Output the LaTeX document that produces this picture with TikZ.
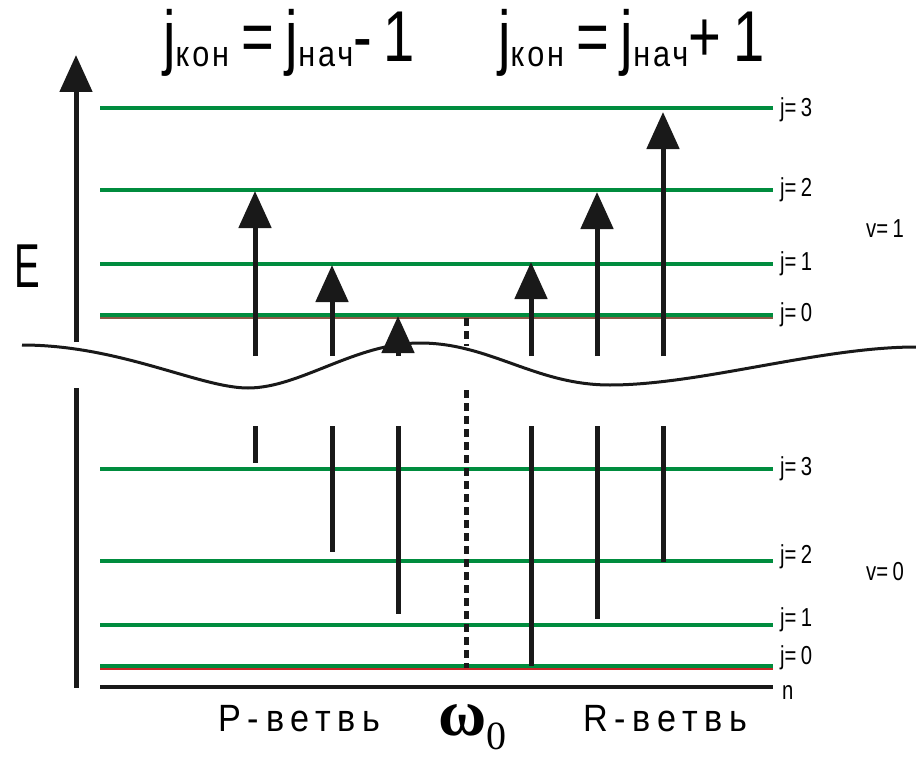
\documentclass[tikz,border=0pt]{standalone}
\usepackage{fontspec}
\setmainfont{Liberation Sans}
\newfontfamily\condf[FakeStretch=0.78]{Liberation Sans}
\newfontfamily\narrowf[FakeStretch=0.62]{Liberation Sans}
\newfontfamily\spacedf[FakeStretch=0.9,LetterSpace=18]{Liberation Sans}
\newfontfamily\subsp[FakeStretch=0.85,LetterSpace=8]{Liberation Sans}
\newfontfamily\seriff{Liberation Serif}
\usetikzlibrary{arrows.meta}
\definecolor{lvgreen}{RGB}{0,140,62}
\definecolor{lvbrown}{RGB}{140,90,70}
\definecolor{lvred}{RGB}{200,40,40}
\begin{document}
\begin{tikzpicture}[x=1pt,y=-1pt,
  lev/.style={draw=lvgreen,line width=4pt},
  trans/.style={draw=black!90,line width=5pt,-{Triangle[length=37pt,width=32pt]}},
  seg/.style={draw=black!90,line width=5pt},
  dashln/.style={draw=black!90,line width=5pt,dash pattern=on 8pt off 5pt},
  lab/.style={font=\condf\fontsize{26}{26}\selectfont,inner sep=0pt,anchor=west},
  big/.style={font=\condf\fontsize{72}{72}\selectfont,inner sep=0pt}]
\useasboundingbox (0,0) rectangle (916,760);
% level coordinates
\foreach \y/\n in {108/uA,190/uB,264/uC,315/uD,469/lA,561/lB,625/lC,666/lD,687/nn}{
  \coordinate (\n L) at (100,\y);
  \coordinate (\n R) at (773,\y);
}
% under-lines of j=0
\draw[draw=lvbrown,line width=2pt] ([yshift=-3pt]uDL) -- ([yshift=-3pt]uDR);
\draw[draw=lvred,line width=2.5pt] ([yshift=-3pt]lDL) -- ([yshift=-3pt]lDR);
\foreach \n in {uA,uB,uC,uD,lA,lB,lC,lD}{\draw[lev] (\n L) -- (\n R);}
\draw[draw=black!90,line width=4pt] (nnL) -- (nnR);
% level labels
\node[lab] (tuA) at (780,110) {j=\,3};
\node[lab] (tuB) at (780,190) {j=\,2};
\node[lab] (tuC) at (780,264) {j=\,1};
\node[lab] (tuD) at (780,315) {j=\,0};
\node[lab] (tlA) at (780,469) {j=\,3};
\node[lab] (tlB) at (780,557) {j=\,2};
\node[lab] (tlC) at (780,620) {j=\,1};
\node[lab] (tlD) at (780,658) {j=\,0};
\node[lab] (tn) at (782,692) {n};
\node[lab] (v1) at (866,229) {v=\,1};
\node[lab] (v0) at (866,572) {v=\,0};
% energy axis
\coordinate (eb) at (76,342);
\coordinate (et) at (76,55);
\draw[trans] (eb) -- (et);
\coordinate (eb2) at (76,388);
\coordinate (et2) at (76,688);
\draw[seg] (eb2) -- (et2);
\node[font=\narrowf\fontsize{62}{62}\selectfont,inner sep=0pt] (E) at (27,266) {E};
% break wave
\coordinate (w0) at (22,345);
\coordinate (w1) at (248,388);
\coordinate (w2) at (420,343);
\coordinate (w3) at (610,385);
\coordinate (w4) at (916,347);
\draw[line width=3pt,black!90] (w0) .. controls (120,345) and (200,388) .. (w1)
  .. controls (300,388) and (355,343) .. (w2)
  .. controls (490,343) and (535,385) .. (w3)
  .. controls (700,385) and (820,347) .. (w4);
% upper transitions
\foreach \x/\t/\n in {255/191/pA,332/265/pB,398/316/pC,531/262/rA,597/192/rB,663/112/rC}{
  \coordinate (\n s) at (\x,356);
  \coordinate (\n e) at (\x,\t);
}
\foreach \n in {pA,pB,pC,rA,rB,rC}{\draw[trans] (\n s) -- (\n e);}
% lower segments
\foreach \x/\b/\n in {255/463/qA,332/552/qB,398/614/qC,531/666/sA,597/619/sB,663/562/sC}{
  \coordinate (\n t) at (\x,426);
  \coordinate (\n b) at (\x,\b);
}
\foreach \n in {qA,qB,qC,sA,sB,sC}{\draw[seg] (\n t) -- (\n b);}
% omega_0 dashed line
\coordinate (d1) at (466,318);
\coordinate (d2) at (466,346);
\coordinate (d3) at (466,390);
\coordinate (d4) at (466,668);
\draw[dashln] (d1) -- (d2);
\draw[dashln] (d3) -- (d4);
% titles
\node[big,anchor=base west] (tl) at (163,62) {j\raisebox{-5pt}{\subsp\fontsize{36}{36}\selectfont кон}\,=\,j\raisebox{-5pt}{\subsp\fontsize{36}{36}\selectfont нач}-\,1};
\node[big,anchor=base west] (tr) at (498,62) {j\raisebox{-5pt}{\subsp\fontsize{36}{36}\selectfont кон}\,=\,j\raisebox{-5pt}{\subsp\fontsize{36}{36}\selectfont нач}+\,1};
% bottom labels
\node[font=\spacedf\fontsize{38}{38}\selectfont,inner sep=0pt,anchor=base west] (pb) at (218,731) {P-ветвь};
\node[font=\spacedf\fontsize{38}{38}\selectfont,inner sep=0pt,anchor=base west] (rb) at (583,731) {R-ветвь};
\node[inner sep=0pt,anchor=base west] (om) at (438,735) {\seriff\bfseries\fontsize{66}{66}\selectfont ω\raisebox{-14pt}{\fontsize{40}{40}\selectfont\mdseries 0}};
\end{tikzpicture}
\end{document}
